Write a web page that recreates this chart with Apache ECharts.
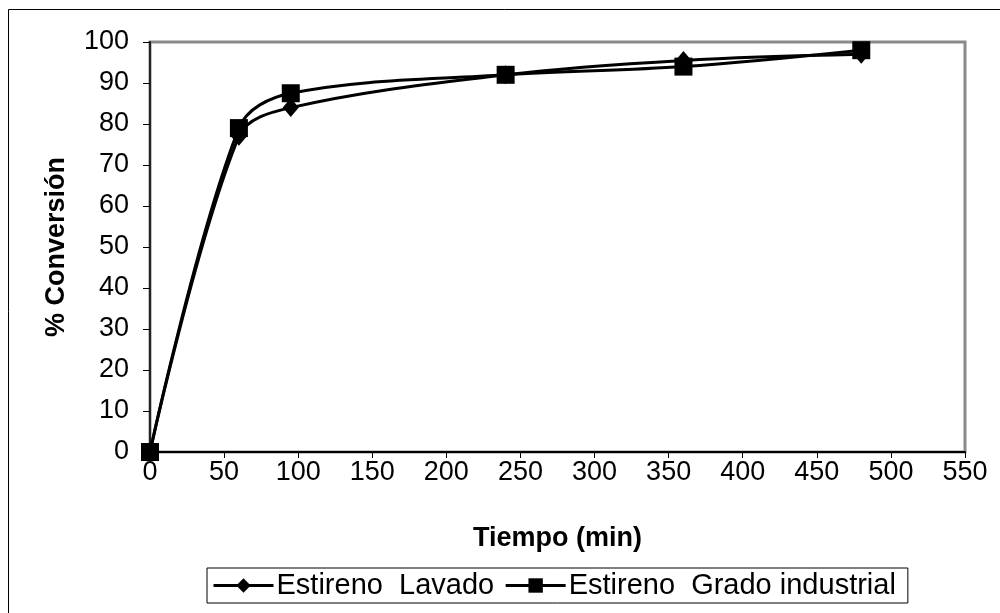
<!DOCTYPE html>
<html>
<head>
<meta charset="utf-8">
<script src="https://cdn.jsdelivr.net/npm/echarts@6/dist/echarts.min.js"></script>
<style>
  html, body { margin: 0; padding: 0; background: #fff; }
  #chart { width: 1000px; height: 613px; }
</style>
</head>
<body>
<div id="chart"></div>
<script>
// Reaction time (min) and conversion (%) for each styrene grade
const tiempo = [0, 60, 95, 240, 360, 480];
const lavado = [0, 77, 84, 92, 95.5, 97];
const industrial = [0, 79, 87.5, 92, 94, 98];
const xTicks = { min: 0, max: 550, step: 50 };
const yTicks = { min: 0, max: 100, step: 10 };
const seriesNames = ['Estireno  Lavado', 'Estireno  Grado industrial'];

const font = 'Liberation Sans, Arial, sans-serif';

const pairs = (xs, ys) => xs.map((x, i) => [x, ys[i]]);

const chart = echarts.init(document.getElementById('chart'), null, { renderer: 'canvas' });

chart.setOption({
  backgroundColor: '#fff',
  animation: false,
  graphic: [{
    type: 'rect',
    shape: { x: 8.5, y: 9.5, width: 1010, height: 620 },
    style: { fill: 'none', stroke: '#000', lineWidth: 1 },
    silent: true
  }],
  grid: {
    left: 150, top: 42, right: 35, bottom: 161,
    show: true,
    borderColor: '#8a8a8a',
    borderWidth: 3,
    backgroundColor: '#fff'
  },
  legend: {
    left: 207, top: 568,
    orient: 'horizontal',
    padding: [3, 12, 3, 5],
    borderColor: '#000',
    borderWidth: 1,
    itemWidth: 60,
    itemHeight: 18,
    itemGap: 10,
    lineStyle: { width: 3, color: '#000' },
    textStyle: { fontFamily: font, fontSize: 29, color: '#000', padding: [0, 0, 0, -2] },
    data: seriesNames
  },
  xAxis: {
    type: 'value',
    min: xTicks.min, max: xTicks.max, interval: xTicks.step,
    name: 'Tiempo (min)',
    nameLocation: 'middle',
    nameGap: 73,
    nameTextStyle: { fontFamily: font, fontSize: 27, fontWeight: 'bold', color: '#000' },
    axisLine: { onZero: false, lineStyle: { color: '#000', width: 2 } },
    axisTick: { show: true, inside: false, length: 6, lineStyle: { color: '#000', width: 1 } },
    axisLabel: { fontFamily: font, fontSize: 27, color: '#000', margin: 7 },
    splitLine: { show: false }
  },
  yAxis: {
    type: 'value',
    min: yTicks.min, max: yTicks.max, interval: yTicks.step,
    name: '% Conversión',
    nameLocation: 'middle',
    nameGap: 80,
    nameRotate: 90,
    nameTextStyle: { fontFamily: font, fontSize: 27, fontWeight: 'bold', color: '#000' },
    axisLine: { onZero: false, lineStyle: { color: '#222', width: 2 } },
    axisTick: { show: true, inside: false, length: 7, lineStyle: { color: '#000', width: 1 } },
    axisLabel: { fontFamily: font, fontSize: 27, color: '#000', margin: 21 },
    splitLine: { show: false }
  },
  series: [
    {
      name: seriesNames[0],
      type: 'line',
      data: pairs(tiempo, lavado),
      smooth: 0.35,
      symbol: 'diamond',
      symbolSize: [16, 19],
      itemStyle: { color: '#000' },
      lineStyle: { color: '#000', width: 3 },
      z: 3
    },
    {
      name: seriesNames[1],
      type: 'line',
      data: pairs(tiempo, industrial),
      smooth: 0.35,
      symbol: 'rect',
      symbolSize: 18,
      itemStyle: { color: '#000' },
      lineStyle: { color: '#000', width: 3 },
      z: 4
    }
  ]
});
</script>
</body>
</html>
